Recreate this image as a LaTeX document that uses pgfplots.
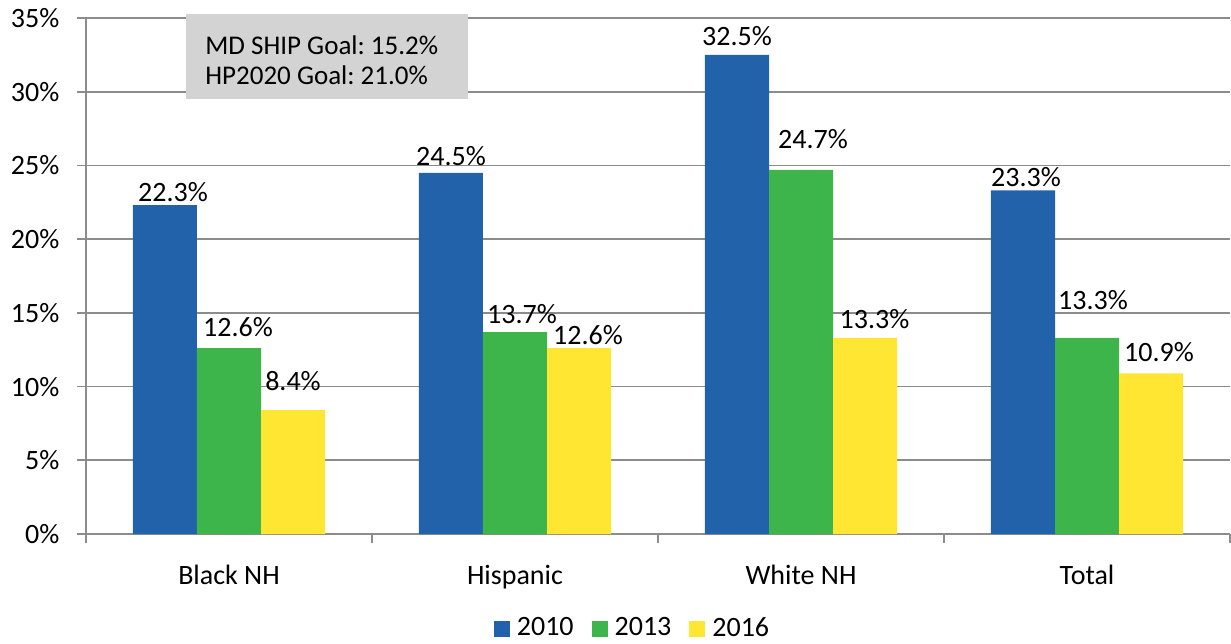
\documentclass[border=0pt]{standalone}
\usepackage{pgfplots}
\pgfplotsset{compat=1.18}
\usepackage{fontspec}
\setmainfont{Carlito}
\definecolor{c2010}{HTML}{2262AB}
\definecolor{c2013}{HTML}{3DB54A}
\definecolor{c2016}{HTML}{FFE632}
\definecolor{gridgray}{HTML}{8C8C8C}
\definecolor{boxgray}{HTML}{D3D3D3}

% x  value  label offsets (dx, dy in px of the reference)
\pgfplotstableread{
x y dx dy
0 22.3 8 4
1 24.5 0 7
2 32.5 0 9
3 23.3 3 4
}\dataA
\pgfplotstableread{
x y dx dy
0 12.6 9 12
1 13.7 7 9
2 24.7 12 21
3 13.3 6 28
}\dataB
\pgfplotstableread{
x y dx dy
0 8.4 0 20
1 12.6 9 4
2 13.3 9.5 9
3 10.9 8 12
}\dataC

\begin{document}
\frenchspacing
\fontsize{14}{15}\selectfont
\begin{tikzpicture}
\begin{axis}[
  scale only axis, width=572pt, height=258pt,
  ybar=0pt, bar width=0.2238,
  xmin=-0.5, xmax=3.5, ymin=0, ymax=35,
  xtick={-0.5,0.5,1.5,2.5,3.5},
  xticklabels={Black NH,Hispanic,White NH,Total},
  x tick label as interval,
  ytick={0,5,...,35},
  yticklabel={\pgfmathprintnumber{\tick}\%},
  /pgf/number format/assume math mode=true,
  axis x line*=bottom, axis y line*=left,
  axis line style={gridgray,-, line width=0.8pt},
  tick align=outside, major tick length=4.5pt,
  tick style={gridgray, line width=0.8pt},
  ymajorgrids, grid style={gridgray, line width=0.8pt},
  xticklabel style={yshift=-6pt},
  yticklabel style={xshift=-4pt},
  visualization depends on={\thisrow{dx} \as \dx},
  visualization depends on={\thisrow{dy} \as \dy},
  nodes near coords={\pgfmathprintnumber[fixed,fixed zerofill,precision=1]{\pgfplotspointmeta}\%},
  nodes near coords style={text=black, font=\fontsize{14}{15}\selectfont,
    anchor=base, inner sep=0pt, xshift=\dx*0.5pt, yshift=\dy*0.5pt},
  legend style={at={(0.4786,-0.184)}, anchor=center, legend columns=-1, draw=none,
    font=\fontsize{14}{15}\selectfont,
    /tikz/every odd column/.append style={column sep=1.5pt},
    /tikz/every even column/.append style={column sep=7pt}},
  legend image code/.code={\fill[#1] (0pt,-4pt) rectangle (8pt,4pt);},
  clip=false,
]
\addplot[fill=c2010, draw=none] table[x=x, y=y] {\dataA};
\addplot[fill=c2013, draw=none] table[x=x, y=y] {\dataB};
\addplot[fill=c2016, draw=none] table[x=x, y=y] {\dataC};
\legend{2010,2013,2016}
\fill[boxgray] (axis cs:-0.15,29.5) rectangle (axis cs:0.836,35.27);
\node[anchor=west, align=left, inner sep=0pt, font=\fontsize{13.5}{15}\selectfont]
  at (axis cs:-0.084,32.15) {MD SHIP Goal: 15.2\%\\HP2020 Goal: 21.0\%};
\end{axis}
\pgfresetboundingbox
\path (-43pt,-54.5pt) rectangle (572.5pt,267pt);
\end{tikzpicture}
\end{document}
